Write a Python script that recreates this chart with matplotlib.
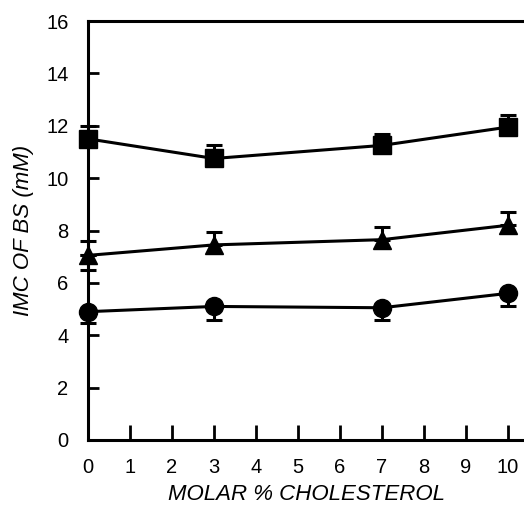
import matplotlib
matplotlib.use("Agg")
import matplotlib.pyplot as plt
import numpy as np

plt.rcParams['font.family'] = ['Liberation Sans', 'DejaVu Sans']

x = [0, 3, 7, 10]
sq_y = [11.5, 10.75, 11.25, 11.95]
sq_err = [0.5, 0.5, 0.45, 0.45]
tri_y = [7.05, 7.45, 7.65, 8.2]
tri_err = [0.55, 0.5, 0.5, 0.5]
circ_y = [4.9, 5.1, 5.05, 5.6]
circ_err = [0.45, 0.5, 0.45, 0.5]
xticks = list(range(0, 11))
yticks = list(range(0, 17, 2))

fig = plt.figure(figsize=(5.24, 5.09), dpi=100)
ax = fig.add_axes([0.168, 0.1356, 0.832, 0.8231])

lw = 2.2
def plot_series(y, err, marker, ms, side):
    zeros = [0] * len(y)
    if side == 'up':
        yerr = [zeros, err]
    else:
        yerr = [err, zeros]
    ax.errorbar(x, y, yerr=yerr, fmt='-', color='black', marker=marker, ms=ms,
                lw=lw, elinewidth=lw, capsize=6, capthick=lw, clip_on=False, zorder=3)

plot_series(sq_y, sq_err, 's', 12.5, 'up')
plot_series(tri_y, tri_err, '^', 13, 'up')
plot_series(circ_y, circ_err, 'o', 13, 'down')
# lower error for triangle at x=0
ax.errorbar([x[0]], [tri_y[0]], yerr=[[tri_err[0]], [0]], fmt='none', ecolor='black',
            elinewidth=lw, capsize=6, capthick=lw, clip_on=False, zorder=3)

ax.set_xlim(0, 10.38)
ax.set_ylim(0, 16)
ax.set_xticks(xticks)
ax.set_yticks(yticks)
ax.tick_params(axis='x', direction='in', length=11, width=2, pad=13, labelsize=14.5)
ax.tick_params(axis='y', direction='in', length=8, width=2, pad=14, labelsize=14.5)
for s in ['left', 'bottom', 'top']:
    ax.spines[s].set_linewidth(2.2)
ax.spines['right'].set_visible(False)

ax.set_xlabel('MOLAR % CHOLESTEROL', fontsize=16, style='italic', labelpad=5)
ax.set_ylabel('IMC OF BS (mM)', fontsize=16, style='italic', labelpad=9)

fig.savefig('out.png', dpi=100)
